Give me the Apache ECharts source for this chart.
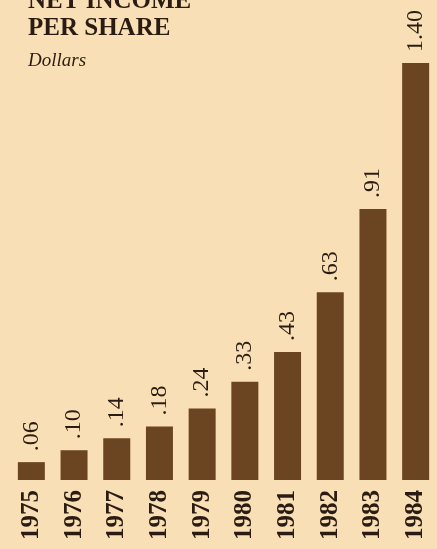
<!DOCTYPE html>
<html>
<head>
<meta charset="utf-8">
<script src="https://cdn.jsdelivr.net/npm/echarts@6/dist/echarts.min.js"></script>
<style>
html,body{margin:0;padding:0;background:#f8dfb5;}
#c{width:437px;height:549px;}
</style>
</head>
<body>
<div id="c"></div>
<script>
const years = ['1975','1976','1977','1978','1979','1980','1981','1982','1983','1984'];
const netIncomePerShare = [0.06, 0.10, 0.14, 0.18, 0.24, 0.33, 0.43, 0.63, 0.91, 1.40];

const chart = echarts.init(document.getElementById('c'), null, {renderer: 'canvas'});
const textColor = '#2a1c12';
const serif = '"Liberation Serif", "DejaVu Serif", serif';

chart.setOption({
  backgroundColor: '#f8dfb5',
  animation: false,
  title: [
    {
      text: 'NET INCOME\nPER SHARE',
      left: 28, top: -12, padding: 0,
      textStyle: {fontFamily: serif, fontSize: 25, fontWeight: 'bold', color: textColor, lineHeight: 27}
    },
    {
      text: 'Dollars',
      left: 28, top: 51, padding: 0,
      textStyle: {fontFamily: serif, fontSize: 19, fontStyle: 'italic', fontWeight: 'normal', color: textColor, lineHeight: 19}
    }
  ],
  grid: {left: 10, width: 434, top: 63, bottom: 69},
  xAxis: {
    type: 'category',
    data: years,
    axisLine: {show: false},
    axisTick: {show: false},
    axisLabel: {
      rotate: 90, margin: 10, interval: 0,
      fontFamily: serif, fontSize: 25, fontWeight: 600, color: textColor
    }
  },
  yAxis: {
    type: 'value', min: 0, max: 1.40, show: false,
    splitLine: {show: false}
  },
  series: [{
    type: 'bar',
    data: netIncomePerShare,
    barWidth: 27,
    itemStyle: {color: '#6b4522'},
    label: {
      show: true, position: 'top', distance: 11,
      rotate: 90, align: 'left', verticalAlign: 'middle',
      fontFamily: serif, fontSize: 24, color: textColor,
      formatter: p => p.value.toFixed(2).replace(/^0/, '')
    }
  }]
});
</script>
</body>
</html>
